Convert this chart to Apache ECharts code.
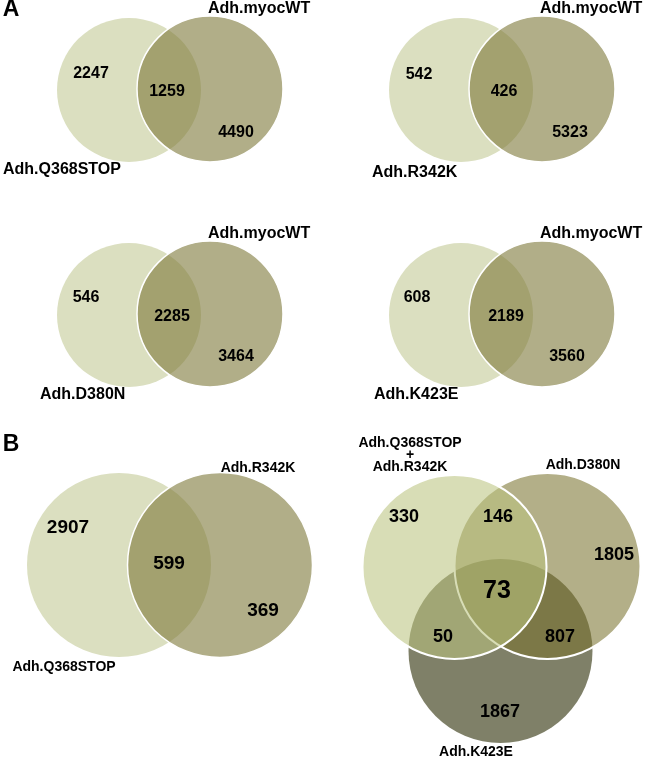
<!DOCTYPE html>
<html>
<head>
<meta charset="utf-8">
<script src="https://cdn.jsdelivr.net/npm/echarts@6/dist/echarts.min.js"></script>
<style>html,body{margin:0;padding:0;background:#fff;}#chart{width:650px;height:759px;}</style>
</head>
<body>
<div id="chart"></div>
<script>
// ---------- DATA ----------
const panelLetters = ['A', 'B'];
const referenceNameA = 'Adh.myocWT';
const setNamesA = ['Adh.Q368STOP', 'Adh.R342K', 'Adh.D380N', 'Adh.K423E'];
const onlyMutantA = [2247, 542, 546, 608];
const sharedA = [1259, 426, 2285, 2189];
const onlyReferenceA = [4490, 5323, 3464, 3560];

const setNamesB2 = ['Adh.Q368STOP', 'Adh.R342K'];
const valuesB2 = [2907, 599, 369];           // only left, shared, only right

const setNamesB3 = ['Adh.Q368STOP\n+\nAdh.R342K', 'Adh.D380N', 'Adh.K423E'];
const regionsB3 = ['1', '12', '2', '13', '123', '23', '3'];
const valuesB3 = [330, 146, 1805, 50, 73, 807, 1867];

// ---------- LAYOUT (geometry in page units) ----------
const FONT = '"Liberation Sans", Arial, Helvetica, sans-serif';
const subOffsets = [[0, 0], [332, 0], [0, 225], [332, 225]];
const circL = [129, 90, 72], circR = [210, 89, 73];
const posOnly = [[91, 74], [87, 75], [86, 73], [85, 73]];
const posShared = [[167, 92], [172, 92], [172, 92], [174, 92]];
const posRefOnly = [[236, 133], [238, 133], [236, 132], [235, 132]];
const posMutLabel = [[3, 170], [40, 173], [40, 170], [42, 170]];
const posRefLabel = [208, 9];

const colLight = 'rgb(219,223,192)';
const colDarkA = 'rgba(125,120,57,0.6)';

const circles = [];
const texts = [];

subOffsets.forEach((o, i) => {
  circles.push({ c: [circL[0] + o[0], circL[1] + o[1], circL[2]], fill: colLight });
  circles.push({ c: [circR[0] + o[0], circR[1] + o[1], circR[2]], fill: colDarkA, stroke: '#fff', lw: 1.5 });
  texts.push({ p: [posOnly[i][0] + o[0], posOnly[i][1] + o[1]], t: String(onlyMutantA[i]), s: 16 });
  texts.push({ p: [posShared[i][0] + o[0], posShared[i][1] + o[1]], t: String(sharedA[i]), s: 16 });
  texts.push({ p: [posRefOnly[i][0] + o[0], posRefOnly[i][1] + o[1]], t: String(onlyReferenceA[i]), s: 16 });
  texts.push({ p: [posMutLabel[i][0] + o[0], posMutLabel[i][1] + o[1]], t: setNamesA[i], s: 16, a: 'left' });
  texts.push({ p: [posRefLabel[0] + o[0], posRefLabel[1] + o[1]], t: referenceNameA, s: 16, a: 'left' });
});

texts.push({ p: [11, 10], t: panelLetters[0], s: 23 });
texts.push({ p: [11, 445], t: panelLetters[1], s: 23 });

// Panel B, two sets
circles.push({ c: [119, 565, 92], fill: colLight });
circles.push({ c: [220, 565, 92.5], fill: colDarkA, stroke: '#fff', lw: 1.5 });
const posB2 = [[68, 528], [169, 564], [263, 611]];
valuesB2.forEach((v, i) => texts.push({ p: posB2[i], t: String(v), s: 19 }));
texts.push({ p: [64, 667], t: setNamesB2[0], s: 14 });
texts.push({ p: [258, 468], t: setNamesB2[1], s: 14 });

// Panel B, three sets (drawn K, then D, then Q)
circles.push({ c: [500.5, 651, 92], fill: 'rgb(127,128,104)' });
circles.push({ c: [547.5, 566, 93], fill: 'rgba(122,115,46,0.57)', stroke: '#fff', lw: 2 });
circles.push({ c: [454.5, 567, 92], fill: 'rgba(186,195,127,0.57)', stroke: '#fff', lw: 2 });
const posB3 = { '1': [404, 517], '12': [498, 517], '2': [614, 555], '13': [443, 637], '123': [497, 591], '23': [560, 637], '3': [500, 712] };
regionsB3.forEach((k, i) => texts.push({ p: posB3[k], t: String(valuesB3[i]), s: k === '123' ? 25 : 18 }));
texts.push({ p: [410, 455], t: setNamesB3[0], s: 14, lh: 12 });
texts.push({ p: [583, 465], t: setNamesB3[1], s: 14 });
texts.push({ p: [476, 752], t: setNamesB3[2], s: 14 });

const chart = echarts.init(document.getElementById('chart'), null, { renderer: 'canvas' });
chart.setOption({
  backgroundColor: '#fff',
  animation: false,
  grid: { left: 0, right: 0, top: 0, bottom: 0 },
  xAxis: { type: 'value', min: 0, max: 650, show: false },
  yAxis: { type: 'value', min: 0, max: 759, inverse: true, show: false },
  series: [
    {
      type: 'custom',
      clip: false,
      silent: true,
      data: circles.map(c => c.c),
      renderItem: function (params, api) {
        const c = circles[params.dataIndex];
        const p = api.coord([api.value(0), api.value(1)]);
        const r = api.size([api.value(2), 0])[0];
        return {
          type: 'circle',
          shape: { cx: p[0], cy: p[1], r: r },
          style: { fill: c.fill, stroke: c.stroke || null, lineWidth: c.lw || 0 }
        };
      }
    },
    {
      type: 'custom',
      clip: false,
      silent: true,
      data: texts.map(t => t.p),
      renderItem: function (params, api) {
        const t = texts[params.dataIndex];
        const p = api.coord([api.value(0), api.value(1)]);
        return {
          type: 'text',
          x: p[0], y: p[1],
          style: {
            text: t.t,
            fill: '#000',
            font: 'bold ' + t.s + 'px ' + FONT,
            align: t.a || 'center',
            verticalAlign: 'middle',
            lineHeight: t.lh || undefined
          }
        };
      }
    }
  ]
});
</script>
</body>
</html>
